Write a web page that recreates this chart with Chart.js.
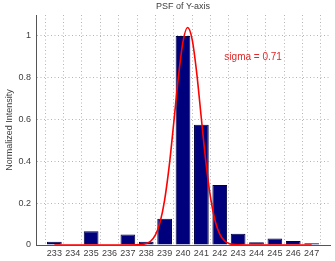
<!DOCTYPE html>
<html>
<head>
<meta charset="utf-8">
<script src="https://cdn.jsdelivr.net/npm/chart.js@4/dist/chart.umd.min.js"></script>
<style>
  html, body { margin: 0; padding: 0; background: #fff; }
  #psf { display: block; }
</style>
</head>
<body>
<canvas id="psf" width="335" height="261"></canvas>
<script>
// pixel positions along the Y axis
const categories = [233, 234, 235, 236, 237, 238, 239, 240, 241, 242, 243, 244, 245, 246, 247];
const intensity = [0.015, 0, 0.066, 0, 0.05, 0.015, 0.125, 1.0, 0.575, 0.287, 0.054, 0.013, 0.031, 0.019, 0.008];

// gaussian fit curve
const fitX = [233, 234, 235, 236, 237, 237.5, 238, 238.25, 238.5, 238.75, 239, 239.25, 239.5, 239.75,
  240, 240.25, 240.5, 240.75, 241, 241.25, 241.5, 241.75, 242, 242.25, 242.5, 243, 244, 245, 246, 247];
const fitY = [0, 0, 0, 0, 0, 0.0005, 0.0066, 0.019, 0.048, 0.108, 0.215, 0.378, 0.587, 0.804,
  0.973, 1.04, 0.982, 0.82, 0.604, 0.393, 0.226, 0.115, 0.052, 0.021, 0.007, 0.001, 0, 0, 0, 0];

const yTicks = [0, 0.2, 0.4, 0.6, 0.8, 1];
const titleText = 'PSF of Y-axis';
const sigmaLabel = 'sigma = 0.71';

const textColor = '#404040';
const gridColor = '#b4b4b4';
const fontFamily = '"Liberation Sans", Arial, sans-serif';

// title centred over the axes, plus the sigma note inside the plot
const labels = {
  id: 'labels',
  afterDatasetsDraw(chart) {
    const { ctx, scales, chartArea } = chart;
    ctx.save();
    ctx.font = '9px ' + fontFamily;
    ctx.fillStyle = textColor;
    ctx.textAlign = 'center';
    ctx.textBaseline = 'middle';
    ctx.fillText(titleText, (chartArea.left + chartArea.right) / 2, 7);

    ctx.font = '10px ' + fontFamily;
    ctx.fillStyle = '#e02828';
    ctx.textAlign = 'left';
    ctx.fillText(sigmaLabel, scales.x.getPixelForValue(242.25), scales.y.getPixelForValue(0.9));
    ctx.restore();
  }
};

new Chart(document.getElementById('psf'), {
  data: {
    datasets: [
      {
        type: 'line',
        order: 0,
        data: fitX.map((x, i) => ({ x: x, y: fitY[i] })),
        borderColor: '#ff0000',
        borderWidth: 1.6,
        pointRadius: 0,
        fill: false,
        cubicInterpolationMode: 'monotone'
      },
      {
        type: 'bar',
        order: 1,
        data: categories.map((c, i) => ({ x: c, y: intensity[i] })),
        backgroundColor: '#00007c',
        borderColor: '#000044',
        borderWidth: 1,
        barPercentage: 0.8,
        categoryPercentage: 1
      }
    ]
  },
  options: {
    responsive: false,
    animation: false,
    layout: { padding: { top: 15, right: 5, left: 0, bottom: 0 } },
    plugins: {
      legend: { display: false },
      tooltip: { enabled: false },
      title: { display: false }
    },
    scales: {
      x: {
        type: 'linear',
        min: 232,
        max: 248,
        offset: false,
        afterBuildTicks: s => { s.ticks = categories.map(v => ({ value: v })); },
        afterFit: s => { s.height = 16; },
        ticks: {
          color: textColor,
          font: { family: fontFamily, size: 9 },
          padding: 3,
          maxRotation: 0,
          autoSkip: false,
          callback: v => String(v)
        },
        grid: { color: gridColor, drawTicks: false },
        border: { display: true, color: '#555', width: 1, dash: [1, 2.5] }
      },
      y: {
        type: 'linear',
        min: 0,
        max: 1.1,
        afterBuildTicks: s => { s.ticks = yTicks.map(v => ({ value: v })); },
        afterFit: s => { s.width = 36; },
        ticks: {
          color: textColor,
          font: { family: fontFamily, size: 9 },
          padding: 5,
          callback: v => String(v)
        },
        grid: { color: gridColor, drawTicks: false },
        border: { display: true, color: '#555', width: 1, dash: [1, 2.5] },
        title: {
          display: true,
          text: 'Normalized Intensity',
          color: textColor,
          font: { family: fontFamily, size: 9 },
          padding: { top: 4, bottom: 0 }
        }
      }
    }
  },
  plugins: [labels]
});
</script>
</body>
</html>
